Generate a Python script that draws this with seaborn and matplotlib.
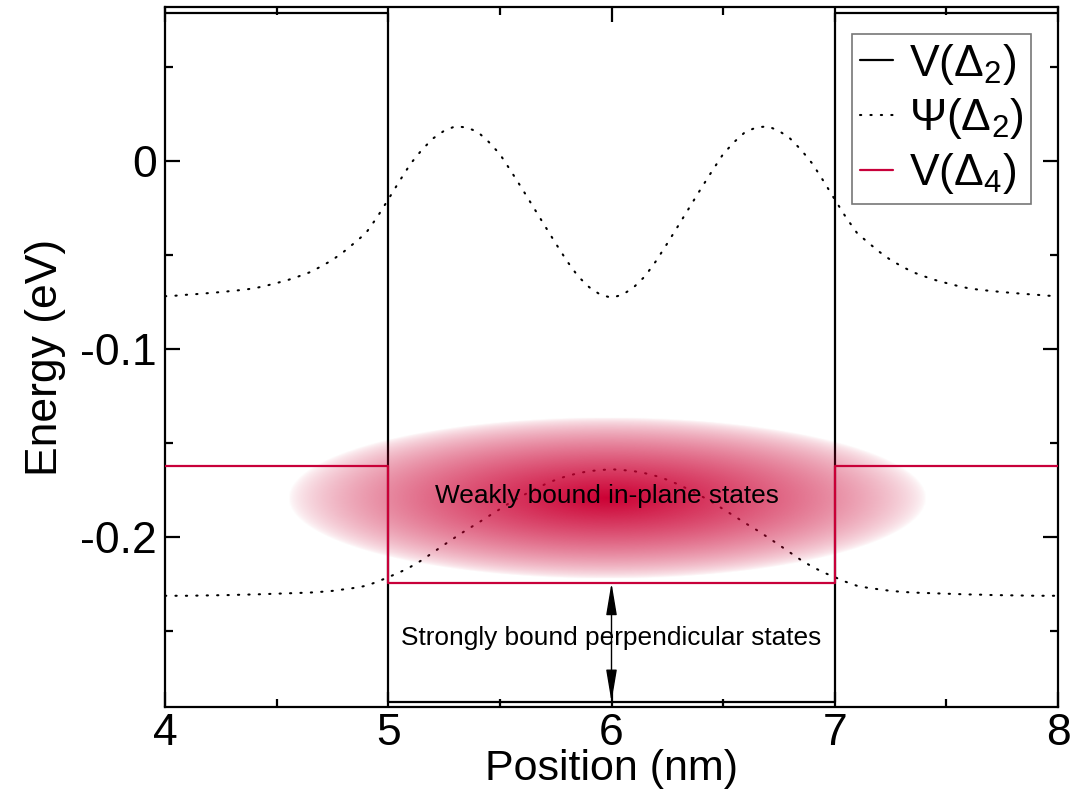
import numpy as np
import pandas as pd
import matplotlib
matplotlib.use('Agg')
import matplotlib.pyplot as plt
import seaborn as sns
from matplotlib.colors import to_rgb

# Posiciones (nm) y potenciales
pos_v2 = [4.0, 5.0, 5.0, 7.0, 7.0, 8.0]
v_delta2 = [0.0787, 0.0787, -0.2879, -0.2879, 0.0787, 0.0787]
pos_v4 = [4.0, 5.0, 5.0, 7.0, 7.0, 8.0]
v_delta4 = [-0.1622, -0.1622, -0.2245, -0.2245, -0.1622, -0.1622]

# Funciones de onda (desplazadas a su nivel de energia), paso 0.05 nm
pos_psi = [round(4.0 + 0.05 * i, 2) for i in range(81)]
psi_alto = [
    -0.0720, -0.0717, -0.0712, -0.0708, -0.0703, -0.0698, -0.0692, -0.0686, -0.0678, -0.0665,
    -0.0650, -0.0634, -0.0614, -0.0592, -0.0561, -0.0527, -0.0484, -0.0435, -0.0384, -0.0300,
    -0.0205, -0.0108, -0.0015, 0.0058, 0.0119, 0.0160, 0.0184, 0.0178, 0.0155, 0.0101,
    0.0036, -0.0055, -0.0149, -0.0246, -0.0343, -0.0439, -0.0532, -0.0614, -0.0672, -0.0712,
    -0.0728,
    -0.0712, -0.0672, -0.0614, -0.0532, -0.0439, -0.0343, -0.0246, -0.0149, -0.0055, 0.0036,
    0.0101, 0.0155, 0.0178, 0.0184, 0.0160, 0.0119, 0.0058, -0.0015, -0.0108, -0.0205,
    -0.0300, -0.0384, -0.0435, -0.0484, -0.0527, -0.0561, -0.0592, -0.0614, -0.0634, -0.0650,
    -0.0665, -0.0678, -0.0686, -0.0692, -0.0698, -0.0703, -0.0708, -0.0712, -0.0717, -0.0720,
]
psi_bajo = [
    -0.2314, -0.2314, -0.2314, -0.2313, -0.2312, -0.2311, -0.2310, -0.2308, -0.2307, -0.2305,
    -0.2303, -0.2301, -0.2299, -0.2297, -0.2293, -0.2288, -0.2280, -0.2272, -0.2261, -0.2240,
    -0.2215, -0.2190, -0.2160, -0.2125, -0.2084, -0.2043, -0.2003, -0.1964, -0.1928, -0.1890,
    -0.1853, -0.1815, -0.1782, -0.1751, -0.1722, -0.1697, -0.1677, -0.1662, -0.1651, -0.1645,
    -0.1641,
    -0.1645, -0.1651, -0.1662, -0.1677, -0.1697, -0.1722, -0.1751, -0.1782, -0.1815, -0.1853,
    -0.1890, -0.1928, -0.1964, -0.2003, -0.2043, -0.2084, -0.2125, -0.2160, -0.2190, -0.2215,
    -0.2240, -0.2261, -0.2272, -0.2280, -0.2288, -0.2293, -0.2297, -0.2299, -0.2301, -0.2303,
    -0.2305, -0.2307, -0.2308, -0.2310, -0.2311, -0.2312, -0.2313, -0.2314, -0.2314, -0.2314,
]

etiquetas = ['V(Δ$_2$)', 'Ψ(Δ$_2$)', 'V(Δ$_4$)']
texto_debil = 'Weakly bound in-plane states'
texto_fuerte = 'Strongly bound perpendicular states'

rojo = '#c8003a'

sns.set_theme(style='ticks')
plt.rcParams['font.family'] = ['Liberation Sans', 'DejaVu Sans']
plt.rcParams['mathtext.fontset'] = 'custom'
plt.rcParams['mathtext.rm'] = 'Liberation Sans'
plt.rcParams['mathtext.it'] = 'Liberation Sans:italic'
plt.rcParams['axes.unicode_minus'] = False
plt.rcParams['text.color'] = 'black'
plt.rcParams['axes.labelcolor'] = 'black'

fig = plt.figure(figsize=(10.73, 7.92), dpi=100)
ax = fig.add_axes([0.1538, 0.1073, 0.8322, 0.8839])

df_v2 = pd.DataFrame({'pos': pos_v2, 'E': v_delta2})
df_v4 = pd.DataFrame({'pos': pos_v4, 'E': v_delta4})
df_psi = pd.DataFrame({'pos': pos_psi, 'alto': psi_alto, 'bajo': psi_bajo})

sns.lineplot(data=df_v2, x='pos', y='E', ax=ax, color='black', lw=1.6,
             estimator=None, sort=False, label=etiquetas[0], zorder=2)
sns.lineplot(data=df_psi, x='pos', y='alto', ax=ax, color='black', lw=1.5,
             estimator=None, sort=False, label=etiquetas[1], zorder=2,
             dashes=False)
sns.lineplot(data=df_psi, x='pos', y='bajo', ax=ax, color='black', lw=1.5,
             estimator=None, sort=False, zorder=2, dashes=False)
sns.lineplot(data=df_v4, x='pos', y='E', ax=ax, color=rojo, lw=1.6,
             estimator=None, sort=False, label=etiquetas[2], zorder=3)

# puntos para las funciones de onda
for ln in ax.lines[1:3]:
    ln.set_dashes((0.6, 4.4))
    ln.set_dash_capstyle('round')

# mancha de estados en el plano
cx, cy, ax_x, ax_y = 5.98, -0.1796, 1.43, 0.0430
gx = np.linspace(cx - ax_x, cx + ax_x, 400)
gy = np.linspace(cy - ax_y, cy + ax_y, 200)
GX, GY = np.meshgrid(gx, gy)
r = np.sqrt(((GX - cx) / ax_x) ** 2 + ((GY - cy) / ax_y) ** 2)
img = np.zeros((200, 400, 4))
img[..., :3] = to_rgb('#cc0033')
img[..., 3] = np.clip(1 - r, 0, 1) ** 0.65
ax.imshow(img, extent=[gx[0], gx[-1], gy[0], gy[-1]], origin='lower',
          aspect='auto', interpolation='bilinear', zorder=4)

ax.text(5.98, -0.1785, texto_debil, fontsize=18.9, ha='center', va='center', zorder=6)
ax.text(6.0, -0.2539, texto_fuerte, fontsize=18.9, ha='center', va='center', zorder=6)

ax.annotate('', xy=(6.0, -0.2879), xytext=(6.0, -0.2245),
            arrowprops=dict(arrowstyle='<|-|>,head_length=0.9,head_width=0.15',
                            color='black', lw=1.0, mutation_scale=22,
                            shrinkA=0, shrinkB=0), zorder=5)

ax.set_xlim(4, 8)
ax.set_ylim(-0.2906, 0.0819)
ax.set_xticks([4, 5, 6, 7, 8])
ax.set_xticks([4.5, 5.5, 6.5, 7.5], minor=True)
ax.set_yticks([-0.2, -0.1, 0])
ax.set_yticklabels(['-0.2', '-0.1', '0'])
ax.set_yticks([-0.25, -0.15, -0.05, 0.05], minor=True)
ax.tick_params(which='both', direction='in', top=True, right=True, width=1.6,
               labelsize=32, colors='black')
ax.tick_params(which='major', length=11, pad=6)
ax.tick_params(axis='x', which='major', pad=4)
ax.tick_params(which='minor', length=6)
for s in ax.spines.values():
    s.set_linewidth(1.6)
    s.set_color('black')

ax.set_xlabel('Position (nm)', fontsize=31, labelpad=-3)
ax.set_ylabel('Energy (eV)', fontsize=32, labelpad=10)

leg = ax.legend(loc='upper right', fontsize=32, frameon=True, fancybox=False,
                edgecolor='#777777', framealpha=1, handlelength=0.75,
                handletextpad=0.35, labelspacing=0.22, borderpad=0.18,
                borderaxespad=0.6)
leg.get_frame().set_linewidth(1.2)

fig.savefig('out.png', dpi=100)
